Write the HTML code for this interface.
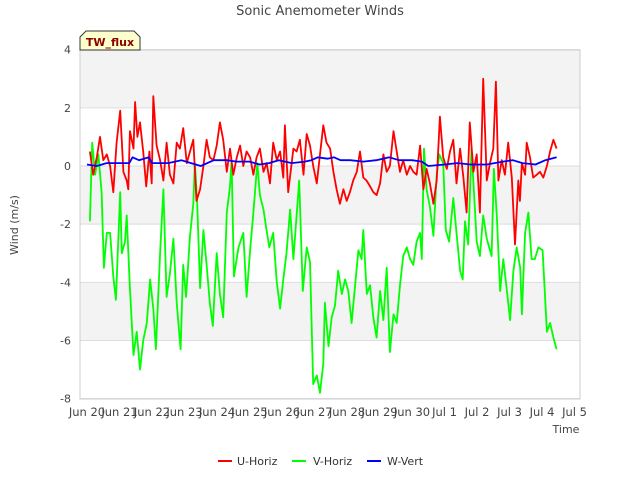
<!DOCTYPE html>
<html><head><meta charset="utf-8"><style>
body{margin:0;background:#fff;font-family:"Liberation Sans","DejaVu Sans",sans-serif}
svg text{font-family:"DejaVu Sans","Liberation Sans",sans-serif}
</style></head><body>
<svg id="chart" width="640" height="480" xmlns="http://www.w3.org/2000/svg">
<rect width="640" height="480" fill="#fff"/>
<g id="bands"></g>
<g id="grid"></g>
<rect x="80" y="50" width="500" height="349" fill="none" stroke="#ccc"/>
<g id="yticks"></g>
<g id="xticks"></g>
<g id="series"></g>
<text x="320" y="15" text-anchor="middle" font-size="13" fill="#444">Sonic Anemometer Winds</text>
<text transform="translate(18,225) rotate(-90)" text-anchor="middle" font-size="11" fill="#444">Wind (m/s)</text>
<text x="566" y="433" text-anchor="middle" font-size="11" fill="#444">Time</text>
<g>
<polygon points="80,37 86,31 134,31 140,37 140,50 80,50" fill="#ffffcc" stroke="#333" stroke-width="1"/>
<text x="110" y="46" text-anchor="middle" font-size="11" font-weight="bold" fill="#8b0000">TW_flux</text>
</g>
<g>
<g><line x1="218" y1="461" x2="232" y2="461" stroke="#f00" stroke-width="2"/><text x="237" y="465" font-size="11" fill="#333">U-Horiz</text></g>
<g><line x1="292" y1="461" x2="306" y2="461" stroke="#0f0" stroke-width="2"/><text x="313" y="465" font-size="11" fill="#333">V-Horiz</text></g>
<g><line x1="367" y1="461" x2="381" y2="461" stroke="#00f" stroke-width="2"/><text x="387" y="465" font-size="11" fill="#333">W-Vert</text></g>
</g>
</svg>
<script>
const xTickLabels=["Jun 20","Jun 21","Jun 22","Jun 23","Jun 24","Jun 25","Jun 26","Jun 27","Jun 28","Jun 29","Jun 30","Jul 1","Jul 2","Jul 3","Jul 4","Jul 5"];
const yTicks=[4,2,0,-2,-4,-6,-8];
const greenT=[0.09,0.16,0.25,0.35,0.45,0.52,0.61,0.71,0.81,0.89,1.02,1.07,1.17,1.22,1.32,1.43,1.53,1.63,1.73,1.84,1.94,2.04,2.12,2.25,2.35,2.45,2.55,2.66,2.76,2.88,2.96,3.05,3.17,3.27,3.32,3.39,3.48,3.58,3.68,3.78,3.87,3.99,4.09,4.19,4.30,4.40,4.45,4.52,4.66,4.81,4.91,5.02,5.12,5.24,5.32,5.43,5.51,5.61,5.73,5.84,5.94,6.04,6.14,6.25,6.35,6.45,6.53,6.64,6.76,6.86,6.96,7.07,7.17,7.27,7.32,7.43,7.53,7.63,7.73,7.84,7.94,8.04,8.14,8.25,8.35,8.45,8.50,8.61,8.71,8.81,8.91,9.02,9.12,9.22,9.32,9.43,9.53,9.63,9.73,9.84,9.94,10.04,10.14,10.25,10.30,10.37,10.45,10.55,10.66,10.76,10.84,10.96,11.04,11.14,11.27,11.37,11.48,11.56,11.63,11.73,11.83,11.94,11.99,12.09,12.19,12.30,12.45,12.52,12.61,12.71,12.81,12.91,13.02,13.12,13.22,13.33,13.38,13.48,13.58,13.68,13.78,13.89,14.02,14.15,14.25,14.35,14.45];
const greenV=[-1.9,0.8,-0.3,0.4,-0.9,-3.5,-2.3,-2.3,-3.8,-4.6,-0.9,-3,-2.6,-1.7,-4.2,-6.5,-5.7,-7,-6,-5.4,-3.9,-4.9,-6.3,-3,-0.8,-4.5,-3.7,-2.5,-4.7,-6.3,-3.4,-4.5,-2.4,-1.3,0.1,-1.3,-4.2,-2.2,-3.4,-4.7,-5.5,-3,-4.4,-5.2,-1.6,-0.7,0.2,-3.8,-2.8,-2.3,-4.5,-2.9,-1.6,0.1,-1,-1.5,-2.1,-2.8,-2.3,-4,-4.9,-3.9,-3,-1.5,-3.2,-1.7,-0.5,-4.3,-2.8,-3.3,-7.5,-7.2,-7.8,-6.8,-4.7,-6.2,-5.2,-4.8,-3.6,-4.4,-3.9,-4.3,-5.4,-4.1,-2.9,-3.2,-2.2,-4.4,-4.1,-5.2,-5.9,-4.3,-5.3,-3.5,-6.4,-5.1,-5.4,-4.1,-3.1,-2.8,-3.2,-3.4,-2.6,-2.3,-3.2,0.6,-0.8,-1.4,-2.4,-0.3,0.4,0.1,-2.2,-2.6,-1.1,-2.3,-3.6,-3.9,-1.9,-2.7,0.6,-1.6,-2.6,-3.1,-1.7,-2.5,-3.1,-0.1,-1.7,-4.3,-3.2,-4.2,-5.3,-3.6,-2.8,-3.5,-5.1,-2.3,-1.6,-3.2,-3.2,-2.8,-2.9,-5.7,-5.4,-5.9,-6.3];
const redT=[0.09,0.19,0.30,0.40,0.50,0.61,0.71,0.81,0.91,1.02,1.12,1.22,1.27,1.32,1.43,1.48,1.55,1.63,1.73,1.82,1.92,1.99,2.04,2.14,2.25,2.35,2.45,2.55,2.66,2.76,2.86,2.96,3.07,3.17,3.27,3.37,3.48,3.58,3.68,3.78,3.89,3.99,4.09,4.19,4.30,4.40,4.50,4.61,4.71,4.81,4.91,5.02,5.12,5.22,5.32,5.43,5.53,5.63,5.73,5.84,5.94,6.04,6.09,6.19,6.35,6.45,6.55,6.66,6.76,6.86,6.96,7.07,7.17,7.27,7.37,7.48,7.58,7.68,7.78,7.89,7.99,8.09,8.19,8.30,8.40,8.50,8.60,8.71,8.81,8.91,9.02,9.12,9.22,9.32,9.43,9.53,9.63,9.73,9.84,9.94,10.04,10.14,10.25,10.35,10.45,10.55,10.66,10.76,10.86,10.96,11.07,11.17,11.27,11.37,11.48,11.58,11.68,11.78,11.89,11.99,12.09,12.19,12.30,12.40,12.50,12.58,12.66,12.76,12.86,12.96,13.07,13.17,13.27,13.32,13.38,13.48,13.53,13.63,13.73,13.84,13.94,14.04,14.15,14.25,14.35,14.45];
const redV=[0.5,-0.3,0.3,1.0,0.2,0.4,0.0,-0.9,0.8,1.9,-0.2,-0.5,-0.8,1.2,0.6,2.2,1.0,1.5,0.5,-0.7,0.5,-0.6,2.4,0.7,0.2,-0.5,0.8,-0.3,-0.6,0.8,0.6,1.3,0.1,0.5,0.9,-1.2,-0.8,0.0,0.9,0.3,0.2,0.7,1.5,0.9,-0.2,0.6,-0.3,0.3,0.7,0.0,0.5,0.3,-0.3,0.3,0.6,-0.2,0.1,-0.6,0.8,0.2,0.5,-0.4,1.4,-0.9,0.6,0.5,0.9,-0.3,1.1,0.7,0.0,-0.6,0.4,1.4,0.8,0.6,-0.2,-0.8,-1.3,-0.8,-1.2,-0.9,-0.5,-0.2,0.5,-0.4,-0.5,-0.7,-0.9,-1.0,-0.6,0.4,-0.2,0.0,1.2,0.5,-0.2,0.2,-0.3,0.0,-0.2,-0.3,0.7,-0.8,-0.1,-0.6,-1.3,-0.5,1.7,0.3,-0.1,0.5,0.9,-0.6,0.6,-0.4,-1.6,1.5,-0.2,0.4,-1.6,3.0,-0.5,0.1,0.6,2.9,-0.5,0.2,-0.3,0.8,-0.4,-2.7,-0.5,-1.2,0.1,-0.3,0.8,0.3,-0.4,-0.3,-0.2,-0.4,0.0,0.5,0.9,0.6];
const blueT=[0,0.3,0.6,1.0,1.3,1.4,1.6,1.9,2.0,2.5,2.9,3.2,3.5,3.9,4.3,4.6,5.0,5.3,5.6,5.9,6.3,6.7,6.9,7.1,7.4,7.6,7.8,8.1,8.5,8.9,9.3,9.6,10.0,10.3,10.5,11.0,11.4,11.8,12.3,12.8,13.1,13.4,13.8,14.1,14.45];
const blueV=[0.05,0.0,0.1,0.1,0.1,0.3,0.2,0.3,0.1,0.1,0.2,0.1,0.0,0.2,0.2,0.15,0.15,0.05,0.1,0.2,0.1,0.15,0.2,0.3,0.25,0.3,0.2,0.2,0.15,0.2,0.3,0.2,0.2,0.15,0.0,0.05,0.1,0.05,0.05,0.15,0.2,0.1,0.05,0.2,0.3];

const NS='http://www.w3.org/2000/svg';
const X0=87,DX=32.5,Y0=166,DY=29.08;
const xs=d=>X0+DX*d, ys=v=>Y0-DY*v;
function mk(tag,attrs,parent){const e=document.createElementNS(NS,tag);for(const k in attrs)e.setAttribute(k,attrs[k]);parent.appendChild(e);return e;}
const bands=document.getElementById('bands');
for(let i=0;i<yTicks.length-1;i++){
  const r=mk('rect',{x:80,y:ys(yTicks[i]),width:500,height:ys(yTicks[i+1])-ys(yTicks[i]),fill:i%2===0?'#f3f3f3':'#fff'},bands);
  
  
}
const grid=document.getElementById('grid'),yt=document.getElementById('yticks');
yTicks.forEach(v=>{
  const l=mk('line',{x1:80,x2:580,y1:ys(v),y2:ys(v),stroke:'#ddd'},grid);
  
  
  const t=mk('text',{x:71,y:ys(v)+4,'text-anchor':'end','font-size':11,fill:'#444'},yt);
  
  
  t.textContent=v;
});
const xt=document.getElementById('xticks');
xTickLabels.forEach((s,i)=>{
  const t=mk('text',{x:xs(i),y:416,'text-anchor':'middle','font-size':11.5,fill:'#444'},xt);
  
  
  t.textContent=s;
});
const ser=document.getElementById('series');
function line(T,V,color,name){
  const p=mk('polyline',{points:T.map((t,i)=>xs(t).toFixed(1)+','+ys(V[i]).toFixed(1)).join(' '),fill:'none',stroke:color,'stroke-width':1.8,'stroke-linejoin':'round'},ser);
  
  
}
line(greenT,greenV,'#00ff00','v-horiz-line');
line(redT,redV,'#ff0000','u-horiz-line');
line(blueT,blueV,'#0000ff','w-vert-line');
</script>
</body></html>
